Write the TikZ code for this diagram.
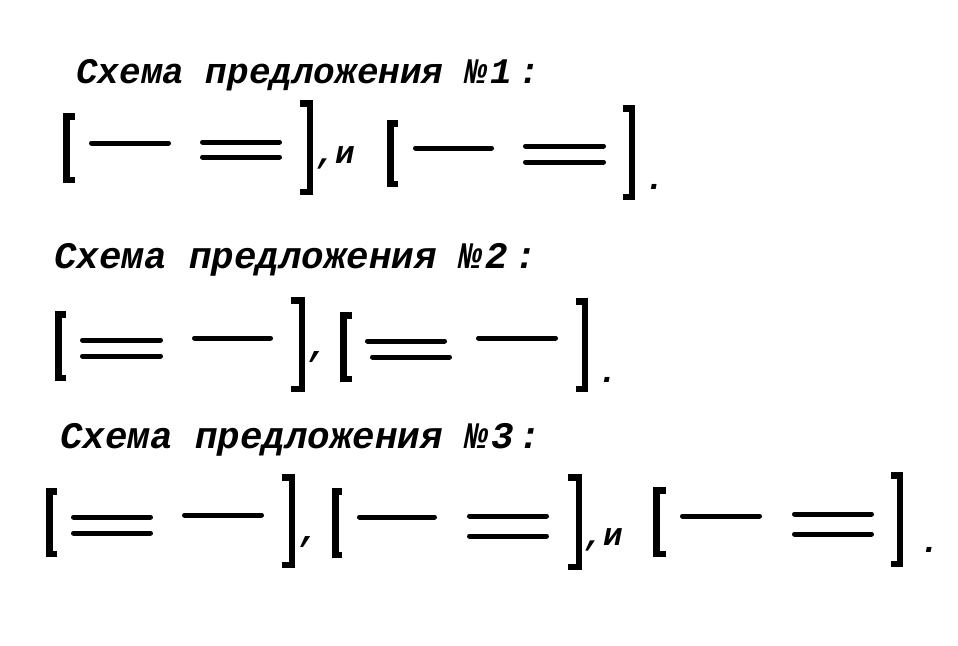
\documentclass[tikz,border=0pt]{standalone}
\usepackage{fontspec}
\setmonofont{Liberation Mono}
\newfontfamily\cmono{Liberation Mono}
\tikzset{
  br/.style={line width=6.5pt, line join=miter, line cap=butt},
  ln/.style={line width=5pt, line cap=round},
  ttl/.style={anchor=base west, inner sep=0pt, font=\cmono\bfseries\itshape\fontsize{36}{36}\selectfont},
  ttlb/.style={ttl, font=\cmono\bfseries\itshape\fontsize{37.5}{37.5}\selectfont},
  punct/.style={anchor=base, inner sep=0pt, font=\cmono\bfseries\itshape\fontsize{34}{34}\selectfont},
  conj/.style={anchor=base west, inner sep=0pt, font=\cmono\bfseries\itshape\fontsize{32}{32}\selectfont}
}
\newcommand\LBr[4]{\draw[br] ({#2},{#3+3.25}) -- ({#1+3.25},{#3+3.25}) -- ({#1+3.25},{#4-3.25}) -- ({#2},{#4-3.25});}
\newcommand\RBr[4]{\draw[br] ({#1},{#3+3.25}) -- ({#2-3.25},{#3+3.25}) -- ({#2-3.25},{#4-3.25}) -- ({#1},{#4-3.25});}
\newcommand\SLn[3]{\draw[ln] ({#1+2.5},{#3}) -- ({#2-2.5},{#3});}
\newcommand\DLn[4]{\draw[ln] ({#1+2.5},{#3}) -- ({#2-2.5},{#3}); \draw[ln] ({#1+2.5},{#4}) -- ({#2-2.5},{#4});}
\begin{document}
\begin{tikzpicture}[x=1pt,y=-1pt]
\useasboundingbox[fill=white] (0,0) rectangle (958,645);
% titles
\node[ttl] (t1) at (76,83) {Схема предложения №\kern4pt1\kern6pt:};
\node[ttlb] (t2) at (54,268) {Схема предложения №\kern4pt2\kern6pt:};
\node[ttlb] (t3) at (60,448) {Схема предложения №\kern4pt3\kern4pt:};
% row 1
\LBr{63}{75}{113}{183}
\SLn{89}{171}{143}
\DLn{200}{282}{142}{157}
\RBr{300}{313}{100}{195}
\node[conj] (c1) at (316,163) {,и};
\LBr{387}{398}{120}{187}
\SLn{413}{494}{148}
\DLn{523}{606}{146}{162}
\RBr{623}{635}{105}{200}
\node[punct] (p1) at (655,189) {.};
% row 2
\LBr{55}{66}{311}{381}
\DLn{80}{163}{340}{356}
\SLn{192}{273}{338}
\RBr{291}{305}{297}{392}
\node[punct] (c2) at (318,356) {,};
\LBr{340}{352}{312}{382}
\draw[ln] (367.5,341) -- (444.5,341);
\draw[ln] (372.5,357) -- (449.5,357);
\SLn{476}{558}{338}
\RBr{576}{588}{298}{392}
\node[punct] (p2) at (608,382) {.};
% row 3
\LBr{46}{57}{488}{557}
\DLn{71}{153}{517}{533}
\SLn{182}{264}{515}
\RBr{282}{295}{474}{568}
\node[punct] (c3) at (309,541) {,};
\LBr{332}{342}{488}{558}
\SLn{357}{437}{517}
\DLn{467}{549}{516}{536}
\RBr{568}{582}{474}{570}
\node[conj] (c4) at (584,545) {,и};
\LBr{653}{666}{487}{557}
\SLn{680}{762}{516}
\DLn{792}{874}{514}{534}
\RBr{891}{903}{472}{567}
\node[punct] (p3) at (930,552) {.};
\end{tikzpicture}
\end{document}
